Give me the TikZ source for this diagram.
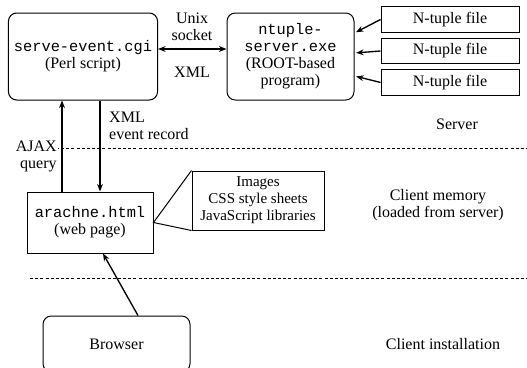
\documentclass[tikz,border=0pt]{standalone}
\usepackage{fontspec}
\setmainfont{Liberation Serif}
\setmonofont{Liberation Mono}
\usetikzlibrary{arrows.meta}
\newcommand{\fname}[1]{{\ttfamily\fontsize{9.2}{10.2}\selectfont #1}}
\tikzset{
  prog/.style={draw,rounded corners=5pt,line width=0.6pt},
  plain/.style={draw,line width=0.6pt},
  sep/.style={line width=0.6pt,dash pattern=on 1.8pt off 1.3pt},
}
\begin{document}
\begin{tikzpicture}[x=0.6pt,y=-0.6pt,line width=0.8pt,>={Stealth[length=4.5pt,width=3.5pt]},
  every node/.style={font=\fontsize{9.6}{10.2}\selectfont,align=center}]
  \useasboundingbox (0,0) rectangle (527,367);

    % --------------------------------------------------------- %
    % ------------- server side
    % --------------------------------------------------------- %
    \node[prog,minimum width=88.8pt,minimum height=52.2pt] (serve) at (83,56.5) {\fname{serve-event.cgi}\\(Perl script)};
    \node[prog,minimum width=76.2pt,minimum height=52.2pt] (ntuple) at (290.5,56.5) {\fname{ntuple-}\\\fname{server.exe}\\(ROOT-based\\program)};

    \node (socket) at (192,27) {Unix\\socket};
    \node (xmlsock) at (192,72) {XML};
    \draw [<->] ([yshift=4.5pt]serve.east) -- ([yshift=4.5pt]ntuple.west);

    \node[plain,minimum width=82.8pt,minimum height=15pt] (file1) at (450,19.5) {N-tuple file};
    \node[plain,minimum width=82.8pt,minimum height=15pt] (file2) at (450,51) {N-tuple file};
    \node[plain,minimum width=82.8pt,minimum height=15pt] (file3) at (450,82.5) {N-tuple file};
    \draw [->,shorten >=1pt] (file1.west) -- ([yshift=14.1pt]ntuple.east);
    \draw [->,shorten >=1pt] (file2.west) -- ([yshift=2.1pt]ntuple.east);
    \draw [->,shorten >=1pt] (file3.west) -- ([yshift=-11.7pt]ntuple.east);

    \node (server) at (457,124) {Server};

    % --------------------------------------------------------- %
    % ------------- client memory
    % --------------------------------------------------------- %
    \draw [sep] (30,148) -- (527,148);

    \node[plain,minimum width=75.6pt,minimum height=36.6pt] (arachne) at (90,222.5) {\fname{arachne.html}\\(web page)};
    \node[plain,minimum width=79.2pt,minimum height=35.4pt,font=\fontsize{9}{10.2}\selectfont] (extras) at (258,200.5) {Images\\CSS style sheets\\JavaScript libraries};
    \draw [line width=0.6pt] (extras.north west) -- (arachne.east) -- (extras.south west);

    \node[anchor=west,align=left] (xmlrec) at (103,126) {XML\\event record};
    \node[anchor=east,align=right,fill=white,inner xsep=1pt] (ajax) at (59,156) {AJAX\\query};
    \draw [->] ([xshift=-16.8pt]arachne.north) -- ([xshift=-16.8pt]arachne.north |- serve.south);
    \draw [->] ([xshift=6pt]arachne.north |- serve.south) -- ([xshift=6pt]arachne.north);

    \node (memory) at (438,205) {Client memory\\(loaded from server)};

    % --------------------------------------------------------- %
    % ------------- client installation
    % --------------------------------------------------------- %
    \draw [sep] (30,278) -- (527,278);

    \node[prog,minimum width=88.2pt,minimum height=33.6pt] (browser) at (116.5,344) {Browser};
    \draw [->] ([xshift=12.9pt]browser.north) -- ([xshift=7.8pt]arachne.south);

    \node (install) at (443,344) {Client installation};

  \end{tikzpicture}
\end{document}
